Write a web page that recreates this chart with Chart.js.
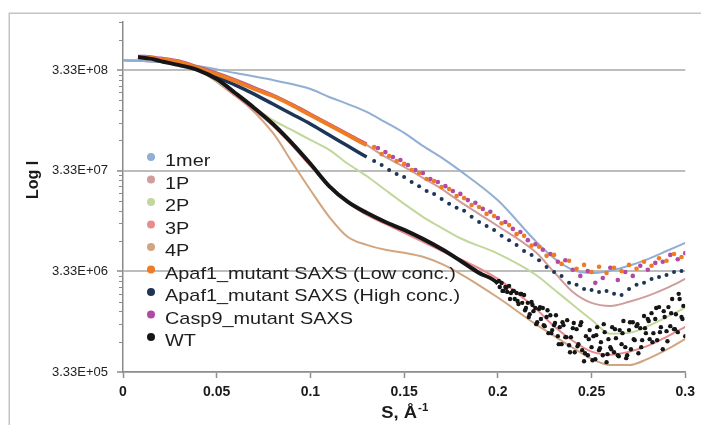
<!DOCTYPE html>
<html>
<head>
<meta charset="utf-8">
<script src="https://cdn.jsdelivr.net/npm/chart.js@4.4.0/dist/chart.umd.min.js"></script>
<style>
  html, body { margin: 0; padding: 0; background: #fff; }
  canvas { display: block; }
</style>
</head>
<body>
<canvas id="myChart" width="701" height="425"></canvas>
<script>
// axis ticks
const xTicks = [0, 0.05, 0.1, 0.15, 0.2, 0.25, 0.3]
const yTicks = [3.33e5, 3.33e6, 3.33e7, 3.33e8]

// model curves, all on one s grid
const sModel = [0, 0.02, 0.04, 0.06, 0.08, 0.09, 0.10, 0.11, 0.12, 0.13, 0.14, 0.15, 0.16, 0.17, 0.18, 0.20, 0.22, 0.23, 0.24, 0.25, 0.26, 0.27, 0.28, 0.29, 0.30]
const mer1 = [4.18e8, 4.0e8, 3.65e8, 3.11e8, 2.65e8, 2.42e8, 2.16e8, 1.80e8, 1.53e8, 1.28e8, 1.01e8, 7.9e7, 5.87e7, 4.5e7, 3.32e7, 1.69e7, 6.7e6, 4.5e6, 3.45e6, 3.21e6, 3.38e6, 3.78e6, 4.4e6, 5.3e6, 6.4e6]
const p1 = [4.18e8, 4.0e8, 3.57e8, 2.71e8, 1.88e8, 1.53e8, 1.22e8, 9.7e7, 7.7e7, 6.0e7, 4.56e7, 3.64e7, 2.82e7, 2.2e7, 1.63e7, 9.4e6, 5.2e6, 3.28e6, 2.08e6, 1.62e6, 1.51e6, 1.66e6, 1.90e6, 2.27e6, 2.80e6]
const p2 = [4.18e8, 4.0e8, 3.33e8, 1.92e8, 1.06e8, 8.46e7, 6.73e7, 5.36e7, 3.9e7, 2.95e7, 2.14e7, 1.56e7, 1.16e7, 9.0e6, 7.1e6, 5.0e6, 3.10e6, 2.20e6, 1.55e6, 1.10e6, 8.0e5, 8.15e5, 9.5e5, 1.17e6, 1.45e6]
const p3 = [4.18e8, 4.0e8, 3.33e8, 1.84e8, 9.3e7, 6.0e7, 3.7e7, 2.34e7, 1.60e7, 1.21e7, 9.85e6, 8.05e6, 6.55e6, 5.3e6, 4.4e6, 2.80e6, 1.43e6, 9.5e5, 6.8e5, 5.3e5, 4.95e5, 5.3e5, 6.05e5, 7.45e5, 9.35e5]
const p4 = [4.18e8, 4.0e8, 3.33e8, 1.88e8, 7.9e7, 4.1e7, 2.14e7, 1.16e7, 7.3e6, 6.1e6, 5.45e6, 5.1e6, 4.65e6, 3.95e6, 3.15e6, 1.83e6, 1.0e6, 7.6e5, 5.8e5, 4.5e5, 3.9e5, 3.9e5, 4.5e5, 5.55e5, 7.1e5]

// measured SAXS curves (Apaf1 low / high conc.)
const sSaxs = [0.008, 0.012, 0.016, 0.02, 0.03, 0.04, 0.05, 0.06, 0.07, 0.08, 0.09, 0.10, 0.11, 0.12, 0.13,
  0.134, 0.138, 0.142, 0.146, 0.150, 0.154, 0.158, 0.162, 0.166, 0.170, 0.174, 0.178, 0.182, 0.186,
  0.190, 0.194, 0.198, 0.202, 0.206, 0.210, 0.214, 0.218, 0.222, 0.226, 0.230, 0.234, 0.238, 0.242,
  0.246, 0.250, 0.254, 0.258, 0.262, 0.266, 0.270, 0.274, 0.278, 0.282, 0.286, 0.290, 0.294, 0.298]
const apafLow = [4.48e8, 4.48e8, 4.38e8, 4.28e8, 4.0e8, 3.49e8, 3.04e8, 2.59e8, 2.16e8, 1.84e8, 1.50e8, 1.19e8, 9.46e7, 7.53e7, 6.0e7,
  5.72e7, 4.87e7, 4.66e7, 4.15e7, 3.89e7, 3.38e7, 3.16e7, 2.75e7, 2.63e7, 2.29e7,
  2.19e7, 1.87e7, 1.78e7, 1.52e7, 1.45e7, 1.24e7, 1.18e7, 1.0e7, 9.6e6, 7.8e6,
  7.5e6, 6.0e6, 5.85e6, 4.75e6, 4.85e6, 3.95e6, 4.25e6, 3.53e6, 3.86e6, 3.28e6,
  3.7e6, 3.21e6, 3.62e6, 3.35e6, 3.86e6, 3.53e6, 4.15e6, 3.78e6, 4.5e6, 4.25e6,
  4.95e6, 4.63e6]
const apafHigh = [4.48e8, 4.48e8, 4.38e8, 4.28e8, 3.91e8, 3.41e8, 2.84e8, 2.36e8, 1.92e8, 1.53e8, 1.22e8, 9.7e7, 7.53e7, 5.87e7, 4.56e7,
  4.16e7, 3.80e7, 3.38e7, 3.09e7, 2.89e7, 2.57e7, 2.34e7, 2.09e7, 1.96e7, 1.74e7,
  1.56e7, 1.43e7, 1.33e7, 1.16e7, 1.03e7, 9.4e6, 8.6e6, 7.5e6, 6.8e6, 6.1e6,
  5.3e6, 4.85e6, 4.3e6, 3.68e6, 3.28e6, 3.0e6, 2.56e6, 2.45e6, 2.22e6, 2.17e6,
  2.08e6, 2.13e6, 1.99e6, 1.94e6, 2.22e6, 2.45e6, 2.56e6, 2.80e6, 2.93e6, 3.06e6,
  3.28e6, 3.36e6]

// Casp9 mutant
const sCasp9 = [0.008, 0.012, 0.016, 0.02, 0.03, 0.04, 0.05, 0.06, 0.07, 0.08, 0.09, 0.10, 0.11, 0.12, 0.13,
  0.136, 0.140, 0.144, 0.148, 0.152, 0.156, 0.160, 0.164, 0.168, 0.172, 0.176, 0.180, 0.184, 0.188,
  0.192, 0.196, 0.200, 0.204, 0.208, 0.212, 0.216, 0.220, 0.224, 0.228, 0.232, 0.236, 0.240, 0.244,
  0.248, 0.252, 0.256, 0.260, 0.264, 0.268, 0.272, 0.276, 0.280, 0.284, 0.288, 0.292, 0.296, 0.300]
const casp9 = [4.58e8, 4.58e8, 4.48e8, 4.38e8, 4.09e8, 3.57e8, 3.11e8, 2.65e8, 2.22e8, 1.88e8, 1.53e8, 1.22e8, 9.7e7, 7.7e7, 6.15e7,
  5.59e7, 5.1e7, 4.56e7, 4.26e7, 3.80e7, 3.38e7, 3.16e7, 2.75e7, 2.57e7, 2.34e7,
  2.09e7, 1.96e7, 1.70e7, 1.60e7, 1.39e7, 1.30e7, 1.13e7, 1.03e7, 8.8e6, 8.2e6,
  6.8e6, 6.2e6, 5.45e6, 4.95e6, 4.15e6, 4.3e6, 3.45e6, 3.0e6, 3.36e6, 2.56e6,
  2.86e6, 3.62e6, 2.73e6, 3.28e6, 3.0e6, 3.78e6, 3.45e6, 4.04e6, 4.15e6, 4.85e6,
  4.4e6, 5.05e6]

// WT
const sWT = [0.008, 0.012, 0.016, 0.02, 0.03, 0.04, 0.05, 0.06, 0.07, 0.08, 0.09, 0.10, 0.11, 0.12, 0.13, 0.14, 0.15, 0.16, 0.17, 0.18, 0.19, 0.20,
  0.201, 0.202, 0.203, 0.204, 0.205, 0.206, 0.207, 0.208, 0.209, 0.210,
  0.211, 0.212, 0.213, 0.214, 0.215, 0.216, 0.217, 0.218, 0.219, 0.220,
  0.221, 0.222, 0.223, 0.224, 0.225, 0.226, 0.227, 0.228, 0.229, 0.230,
  0.231, 0.232, 0.233, 0.234, 0.235, 0.236, 0.237, 0.238, 0.239, 0.240,
  0.241, 0.242, 0.243, 0.244, 0.245, 0.246, 0.247, 0.248, 0.249, 0.250,
  0.251, 0.252, 0.253, 0.254, 0.255, 0.256, 0.257, 0.258, 0.259, 0.260,
  0.261, 0.262, 0.263, 0.264, 0.265, 0.266, 0.267, 0.268, 0.269, 0.270,
  0.271, 0.272, 0.273, 0.274, 0.275, 0.276, 0.277, 0.278, 0.279, 0.280,
  0.281, 0.282, 0.283, 0.284, 0.285, 0.286, 0.287, 0.288, 0.289, 0.290,
  0.291, 0.292, 0.293, 0.294, 0.295, 0.296, 0.297, 0.298, 0.299, 0.300]
const wt = [4.48e8, 4.38e8, 4.28e8, 4.09e8, 3.73e8, 3.33e8, 2.71e8, 1.96e8, 1.40e8, 9.7e7, 6.3e7, 3.9e7, 2.34e7, 1.63e7, 1.27e7, 1.03e7, 8.6e6, 7.0e6, 5.55e6, 4.25e6, 3.21e6, 2.51e6,
  2.33e6, 2.55e6, 2.13e6, 2.33e6, 2.08e6, 2.39e6, 2.03e6, 2.13e6, 1.77e6, 2.03e6,
  1.58e6, 1.99e6, 1.62e6, 1.94e6, 1.44e6, 1.62e6, 1.25e6, 1.65e6, 1.34e6, 1.44e6,
  1.04e6, 1.41e6, 1.12e6, 1.44e6, 9.51e5, 1.17e6, 8.1e5, 1.22e6, 8.68e5, 9.73e5,
  1.22e6, 7.56e5, 9.29e5, 6.3e5, 9.73e5, 7.39e5, 1.09e6, 6.15e5, 7.39e5, 9.08e5,
  5.24e5, 8.88e5, 6.3e5, 9.73e5, 5.49e5, 4.26e5, 7.56e5, 4.89e5, 8.68e5, 5.88e5,
  7.56e5, 4.46e5, 9.29e5, 5.49e5, 6.59e5, 4.89e5, 8.29e5, 4.17e5, 7.06e5, 5.88e5,
  9.29e5, 5.24e5, 7.22e5, 4.89e5, 8.68e5, 6.3e5, 1.07e6, 5.88e5, 4.89e5, 8.68e5,
  5.61e5, 1.04e6, 6.9e5, 9.51e5, 5.12e5, 9.08e5, 6.9e5, 1.2e6, 8.1e5, 1.12e6,
  7.06e5, 1.28e6, 8.1e5, 1.12e6, 6.9e5, 1.47e6, 9.29e5, 5.61e5, 1.17e6, 8.48e5,
  1.47e6, 9.51e5, 1.77e6, 8.88e5, 1.25e6, 8.29e5, 1.77e6, 1.17e6, 1.51e6, 7.56e5]
// second, interleaved WT scan in the noisy tail
const sWT2 = [0.2005, 0.2025, 0.2045, 0.2065, 0.2085, 0.2105, 0.2125, 0.2145, 0.2165, 0.2185,
  0.2205, 0.2225, 0.2245, 0.2265, 0.2285, 0.2305, 0.2325, 0.2345, 0.2365, 0.2385,
  0.2405, 0.2425, 0.2445, 0.2465, 0.2485, 0.2505, 0.2525, 0.2545, 0.2565, 0.2585,
  0.2605, 0.2625, 0.2645, 0.2665, 0.2685, 0.2705, 0.2725, 0.2745, 0.2765, 0.2785,
  0.2805, 0.2825, 0.2845, 0.2865, 0.2885, 0.2905, 0.2925, 0.2945, 0.2965, 0.2985]
const wt2 = [2.67e6, 2.13e6, 2.28e6, 1.77e6, 2.13e6, 1.69e6, 1.99e6, 1.37e6, 1.17e6, 1.54e6,
  9.95e5, 1.47e6, 9.73e5, 1.37e6, 8.1e5, 1.02e6, 6.3e5, 1.04e6, 7.39e5, 5.24e5,
  1.02e6, 6.01e5, 1.04e6, 5.12e5, 7.06e5, 4.36e5, 7.74e5, 5.74e5, 9.95e5, 5.01e5,
  5.61e5, 8.88e5, 4.78e5, 8.1e5, 4.57e5, 1.04e6, 7.06e5, 9.95e5, 5.88e5, 9.08e5,
  1.07e6, 6.59e5, 1.44e6, 8.29e5, 1.34e6, 6.74e5, 1.28e6, 8.88e5, 1.99e6, 1.12e6]

const FONT = '"Liberation Sans", Arial, sans-serif'

function toPoints(sArr, iArr) {
    return sArr.map((s, i) => ({ x: s, y: iArr[i] }))
}

function modelLine(label, sArr, iArr, color) {
    return {
        label: label,
        data: toPoints(sArr, iArr),
        borderColor: color,
        backgroundColor: color,
        borderWidth: 2,
        pointRadius: 0,
        cubicInterpolationMode: 'monotone',
        order: 10
    }
}

// dense part drawn as a thick line, sparse part as dots
function saxsSet(label, sArr, iArr, color, lineUntil, lineWidth, dotRadius, order) {
    return {
        label: label,
        data: toPoints(sArr, iArr),
        borderColor: color,
        backgroundColor: color,
        borderWidth: lineWidth,
        cubicInterpolationMode: 'monotone',
        segment: {
            borderColor: ctx => sArr[ctx.p1DataIndex] > lineUntil ? 'rgba(0,0,0,0)' : color
        },
        pointRadius: ctx => sArr[ctx.dataIndex] > lineUntil ? dotRadius : 0,
        pointBorderWidth: 0,
        pointBackgroundColor: color,
        order: order
    }
}

function sciLabel(v) {
    const parts = v.toExponential(2).toUpperCase().split('E')
    const exp = parts[1]
    return parts[0] + 'E' + exp[0] + exp.slice(1).padStart(2, '0')
}

const decor = {
    id: 'decor',
    beforeDraw(chart) {
        const ctx = chart.ctx
        ctx.save()
        ctx.fillStyle = '#ffffff'
        ctx.fillRect(0, 0, chart.width, chart.height)
        ctx.strokeStyle = '#c4c4c4'
        ctx.lineWidth = 1.5
        ctx.strokeRect(9.25, 13.25, chart.width + 20, chart.height + 20)
        ctx.restore()
    },
    afterDraw(chart) {
        const ctx = chart.ctx
        const area = chart.chartArea
        const yScale = chart.scales.y
        ctx.save()

        // minor ticks on the log axis
        ctx.strokeStyle = '#8a8a8a'
        ctx.lineWidth = 1
        for (const base of yTicks) {
            for (let m = 2; m < 10; m++) {
                const v = base * m
                if (v > yScale.max) break
                const py = Math.round(yScale.getPixelForValue(v)) + 0.5
                ctx.beginPath()
                ctx.moveTo(area.left - 4, py)
                ctx.lineTo(area.left, py)
                ctx.stroke()
            }
        }

        ctx.fillStyle = '#1a1a1a'

        // y title
        ctx.font = 'bold 16px ' + FONT
        ctx.textAlign = 'center'
        ctx.textBaseline = 'middle'
        ctx.save()
        ctx.translate(34, 180)
        ctx.rotate(-Math.PI / 2)
        ctx.fillText('Log I', 0, 0)
        ctx.restore()

        // x title with superscript
        ctx.save()
        const cx = (area.left + area.right) / 2
        ctx.translate(cx, 418)
        ctx.scale(1.15, 1)
        ctx.textAlign = 'left'
        ctx.textBaseline = 'alphabetic'
        ctx.font = 'bold 16px ' + FONT
        const main = 'S, Å'
        const wMain = ctx.measureText(main).width
        ctx.font = 'bold 10px ' + FONT
        const wSup = ctx.measureText('-1').width
        const start = -(wMain + wSup) / 2
        ctx.font = 'bold 16px ' + FONT
        ctx.fillText(main, start, 0)
        ctx.font = 'bold 10px ' + FONT
        ctx.fillText('-1', start + wMain + 1, -7)
        ctx.restore()

        // legend inside the plot
        const lx = area.left + 28
        const ly = area.top + 135
        const step = 22.5
        chart.data.datasets.filter(ds => ds.inLegend !== false).forEach((ds, i) => {
            const y = ly + i * step
            ctx.fillStyle = ds.backgroundColor
            ctx.beginPath()
            ctx.arc(lx, y, 4, 0, Math.PI * 2)
            ctx.fill()
            ctx.save()
            ctx.translate(lx + 14, y + 9)
            ctx.scale(1.17, 1)
            ctx.fillStyle = '#1e1e1e'
            ctx.font = '17px ' + FONT
            ctx.textAlign = 'left'
            ctx.textBaseline = 'alphabetic'
            ctx.fillText(ds.label, 0, 0)
            ctx.restore()
        })

        ctx.restore()
    }
}

const wtExtra = {
    label: 'WT',
    inLegend: false,
    data: toPoints(sWT2, wt2),
    showLine: false,
    backgroundColor: '#161616',
    pointBackgroundColor: '#161616',
    pointBorderWidth: 0,
    pointRadius: 2.2,
    order: 1
}

const ctx = document.getElementById('myChart')
new Chart(ctx, {
    type: 'line',
    data: {
        datasets: [
            modelLine('1mer', sModel, mer1, '#91aed4'),
            modelLine('1P', sModel, p1, '#cf9e9c'),
            modelLine('2P', sModel, p2, '#c2d79c'),
            modelLine('3P', sModel, p3, '#e88b8b'),
            modelLine('4P', sModel, p4, '#d3a57f'),
            saxsSet('Apaf1_mutant SAXS (Low conc.)', sSaxs, apafLow, '#ef7c22', 0.13, 4, 2.3, 2),
            saxsSet('Apaf1_mutant SAXS (High conc.)', sSaxs, apafHigh, '#1d3557', 0.13, 3.5, 2, 4),
            saxsSet('Casp9_mutant SAXS', sCasp9, casp9, '#b04aa5', 0.13, 3, 2.3, 3),
            saxsSet('WT', sWT, wt, '#161616', 0.2, 4, 2.2, 1),
            wtExtra
        ]
    },
    options: {
        responsive: false,
        devicePixelRatio: 1,
        animation: false,
        events: [],
        layout: { padding: { left: 0, right: 13, top: 22, bottom: 0 } },
        plugins: {
            legend: { display: false },
            tooltip: { enabled: false }
        },
        scales: {
            x: {
                type: 'linear',
                min: 0,
                max: 0.3,
                afterBuildTicks: scale => { scale.ticks = xTicks.map(v => ({ value: v })) },
                afterFit: scale => { scale.height = 53 },
                ticks: {
                    callback: v => String(v),
                    color: '#1a1a1a',
                    font: { family: FONT, size: 14, weight: 'bold' },
                    padding: 6,
                    maxRotation: 0
                },
                grid: {
                    drawOnChartArea: false,
                    drawTicks: true,
                    tickLength: 6,
                    tickColor: '#8f8f8f',
                    tickWidth: 1.5
                },
                border: { color: '#8f8f8f', width: 1.5 }
            },
            y: {
                type: 'logarithmic',
                min: 3.33e5,
                max: 1e9,
                bounds: 'data',
                afterBuildTicks: scale => { scale.ticks = yTicks.map(v => ({ value: v })) },
                afterFit: scale => { scale.width = 123 },
                ticks: {
                    callback: v => sciLabel(v),
                    color: '#222222',
                    font: { family: FONT, size: 13 },
                    padding: 9
                },
                grid: {
                    color: '#bdbdbd',
                    lineWidth: 2,
                    drawTicks: true,
                    tickLength: 6,
                    tickColor: '#8a8a8a',
                    tickWidth: 1.5
                },
                border: { color: '#8a8a8a', width: 1.5 }
            }
        }
    },
    plugins: [decor]
})
</script>
</body>
</html>
